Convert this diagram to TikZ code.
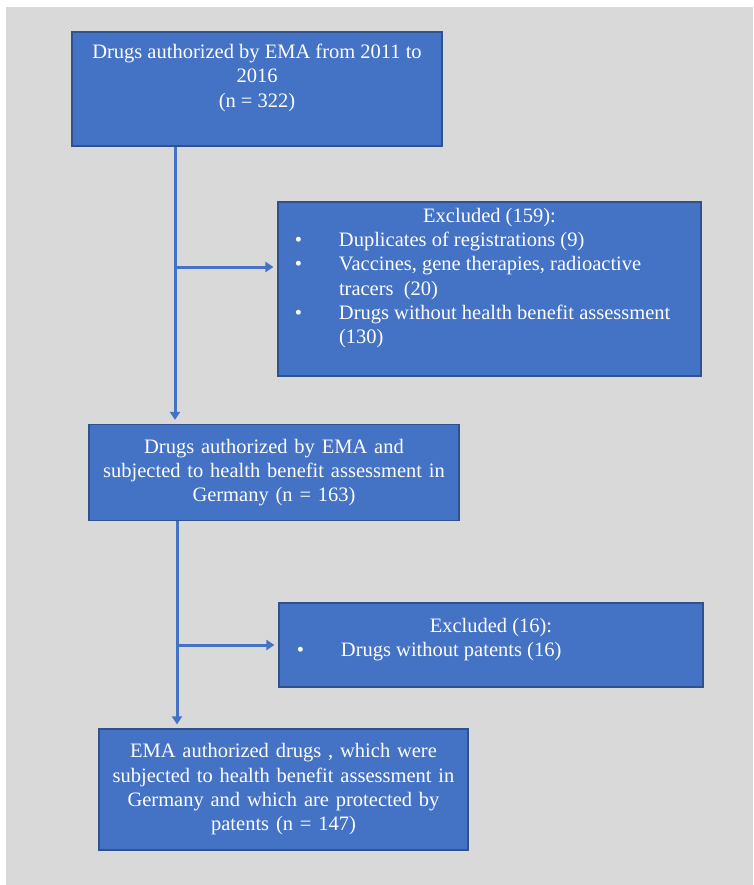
\documentclass[tikz,border=0pt]{standalone}
\usepackage{fontspec}
\setmainfont{Liberation Serif}
\usetikzlibrary{arrows.meta}
\definecolor{bgray}{HTML}{D9D9D9}
\definecolor{boxfill}{HTML}{4472C4}
\definecolor{boxline}{HTML}{2F528F}
\definecolor{arrcol}{HTML}{4472C4}
\newcommand\fsz{\fontsize{20.5pt}{24.3pt}\selectfont}
\newcommand\topbox[4]{\parbox[c][#1][t]{#2}{\vspace*{#3}#4}}
\newcommand\bitem{\leavevmode\llap{\textbullet\hspace{37pt}}}
\tikzset{
  box/.style={draw=boxline, line width=1.2pt, fill=boxfill, text=white, inner sep=0pt, font=\fsz, align=center},
  conn/.style={draw=arrcol, line width=3pt},
  arr/.style={conn, -{Triangle[width=10pt,length=8pt]}, shorten >=4pt}
}
\begin{document}
\begin{tikzpicture}[x=1pt,y=-1pt]
\useasboundingbox (0,0) rectangle (753,885);
\fill[white] (0,0) rectangle (753,885);
\fill[bgray] (6,7) rectangle (753,885);

\node[box, minimum width=370pt, minimum height=114pt] (b1) at (257,89)
  {\topbox{114pt}{370pt}{12pt}{\centering Drugs authorized by EMA from 2011 to\\ 2016\\ (n = 322)}};

\node[box, minimum width=423pt, minimum height=174pt] (b2) at (489.5,289)
  {\topbox{174pt}{423pt}{6pt}{\centering Excluded (159):\par
   \raggedright\leftskip=61pt\parindent=0pt
   \bitem Duplicates of registrations (9)\par
   \bitem Vaccines, gene therapies, radioactive\\ tracers~ (20)\par
   \bitem Drugs without health benefit assessment\\ (130)\par}};

\node[box, minimum width=370pt, minimum height=96pt, text width=360pt] (b3) at (274,472.5)
  {Drugs authorized by EMA and\\ subjected to health benefit assessment in\\ Germany (n = 163)};

\node[box, minimum width=424pt, minimum height=84pt] (b4) at (491,645)
  {\topbox{84pt}{424pt}{15pt}{\centering Excluded (16):\par
   \raggedright\leftskip=62pt\parindent=0pt
   \bitem Drugs without patents (16)\par}};

\node[box, minimum width=369pt, minimum height=121pt, text width=360pt] (b5) at (283.5,789.5)
  {EMA authorized drugs , which were\\ subjected to health benefit assessment in\\ Germany and which are protected by\\ patents (n = 147)};

\coordinate (j1) at (175,267);
\coordinate (j2) at (177,645);

\draw[arr] (b1.south -| j1) -- (b3.north -| j1);
\draw[arr] (j1) -- (b2.west |- j1);
\draw[arr] (b3.south -| j2) -- (b5.north -| j2);
\draw[arr] (j2) -- (b4.west |- j2);
\end{tikzpicture}
\end{document}
